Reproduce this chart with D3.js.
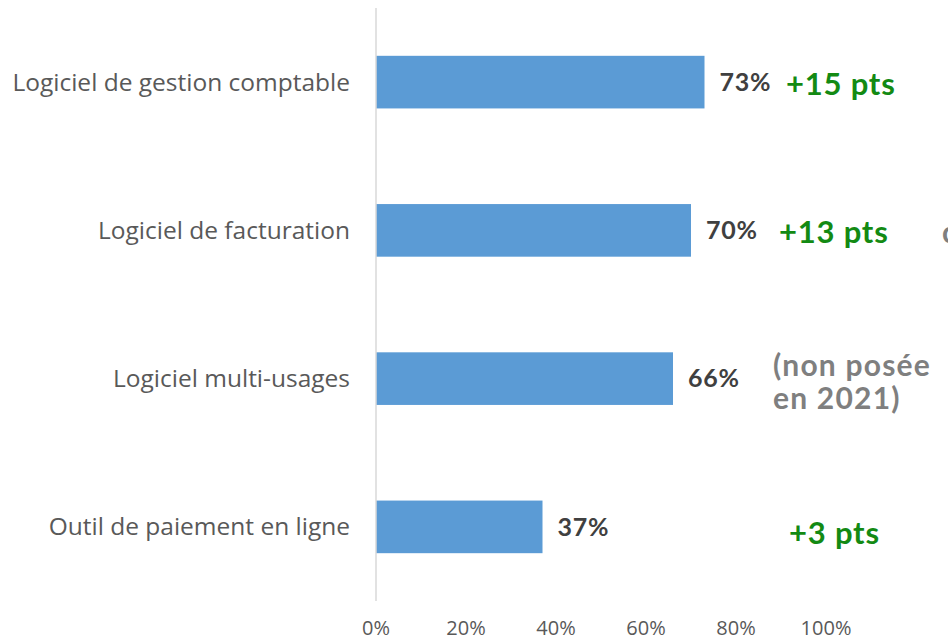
<!DOCTYPE html>
<html>
<head>
<meta charset="utf-8">
<script src="https://cdn.jsdelivr.net/npm/d3@7"></script>
<style>
  html, body { margin: 0; padding: 0; background: #fff; overflow: hidden; }
</style>
</head>
<body>
<svg id="chart" width="948" height="641"></svg>
<script>
// Chart data
const categories = [
  'Logiciel de gestion comptable',
  'Logiciel de facturation',
  'Logiciel multi-usages',
  'Outil de paiement en ligne'
];
const values = [0.73, 0.70, 0.66, 0.37];
const evolutions = ['+15 pts', '+13 pts', null, '+3 pts'];
const xTicks = [0, 0.2, 0.4, 0.6, 0.8, 1.0];

// Layout
const W = 948, H = 641;
const M = { left: 376, right: 122, top: 8, bottom: 40 };
const COLORS = {
  bar: '#5b9bd5',
  axis: '#d9d9d9',
  text: '#595959',
  value: '#404040',
  green: '#138a13',
  note: '#7f7f7f'
};

const svg = d3.select('#chart');

const x = d3.scaleLinear()
  .domain([0, 1])
  .range([M.left, W - M.right]);

const y = d3.scaleBand()
  .domain(categories)
  .range([M.top, H - M.bottom])
  .paddingInner(0.645)
  .paddingOuter(0.3225);

// bars
svg.append('g')
  .selectAll('rect')
  .data(values)
  .join('rect')
  .attr('x', x(0))
  .attr('y', (d, i) => y(categories[i]))
  .attr('width', d => x(d) - x(0))
  .attr('height', y.bandwidth())
  .attr('fill', COLORS.bar);

// vertical axis line
svg.append('line')
  .attr('x1', x(0)).attr('x2', x(0))
  .attr('y1', M.top).attr('y2', H - M.bottom)
  .attr('stroke', COLORS.axis)
  .attr('stroke-width', 1.5);

// category labels
svg.append('g')
  .selectAll('text')
  .data(categories)
  .join('text')
  .attr('x', x(0) - 26)
  .attr('y', d => y(d) + y.bandwidth() / 2)
  .attr('dy', '0.35em')
  .attr('text-anchor', 'end')
  .attr('font-family', 'Open Sans, sans-serif')
  .attr('font-size', 24.5)
  .attr('fill', COLORS.text)
  .text(d => d);

// x tick labels
svg.append('g')
  .selectAll('text')
  .data(xTicks)
  .join('text')
  .attr('x', d => x(d))
  .attr('y', 635)
  .attr('text-anchor', 'middle')
  .attr('font-family', 'Open Sans, sans-serif')
  .attr('font-size', 20)
  .attr('fill', COLORS.text)
  .text(d => d3.format('.0%')(d));

// value labels
svg.append('g')
  .selectAll('text')
  .data(values)
  .join('text')
  .attr('x', d => x(d) + 15)
  .attr('y', (d, i) => y(categories[i]) + y.bandwidth() / 2)
  .attr('dy', '0.35em')
  .attr('font-family', 'Lato, sans-serif')
  .attr('font-weight', 'bold')
  .attr('font-size', 25)
  .attr('letter-spacing', 0.8)
  .attr('fill', COLORS.value)
  .text(d => d3.format('.0%')(d));

// evolution annotations (green)
const evoX = [786, 779, null, 789];
svg.append('g')
  .selectAll('text')
  .data(evolutions)
  .join('text')
  .filter(d => d !== null)
  .attr('x', d => evoX[evolutions.indexOf(d)])
  .attr('y', d => {
    const i = evolutions.indexOf(d);
    return y(categories[i]) + y.bandwidth() / 2 + (i === 3 ? 6 : 2);
  })
  .attr('dy', '0.35em')
  .attr('font-family', 'Lato, sans-serif')
  .attr('font-weight', 'bold')
  .attr('font-size', 31)
  .attr('letter-spacing', 0.8)
  .attr('fill', COLORS.green)
  .text(d => d);

// "non posée" note
const note = svg.append('text')
  .attr('font-family', 'Lato, sans-serif')
  .attr('font-weight', 'bold')
  .attr('font-size', 30)
  .attr('letter-spacing', 1.2)
  .attr('fill', COLORS.note);
note.append('tspan').attr('x', 773).attr('y', y(categories[2]) + 13).attr('dy', '0.35em').text('(non posée');
note.append('tspan').attr('x', 773).attr('y', y(categories[2]) + 46).attr('dy', '0.35em').text('en 2021)');

// clipped text at right edge (row 2)
svg.append('text')
  .attr('x', 942)
  .attr('y', y(categories[1]) + y.bandwidth() / 2 + 2)
  .attr('dy', '0.35em')
  .attr('font-family', 'Lato, sans-serif')
  .attr('font-weight', 'bold')
  .attr('font-size', 30)
  .attr('fill', COLORS.note)
  .text('c');
</script>
</body>
</html>
